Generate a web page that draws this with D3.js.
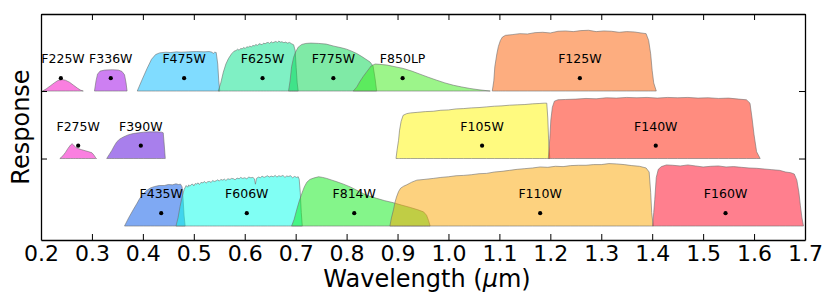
<!DOCTYPE html>
<html>
<head>
<meta charset="utf-8">
<script src="https://cdn.jsdelivr.net/npm/d3@7"></script>
<style>
  body { margin: 0; background: #fff; }
  svg { display: block; font-family: "DejaVu Sans", sans-serif; }
</style>
</head>
<body>
<script>
// filter curves: [wavelength (um), response]
var f225w = [[0.203,0],[0.21,0.03],[0.218,0.075],[0.226,0.12],[0.233,0.155],[0.241,0.17],[0.248,0.16],[0.256,0.13],[0.264,0.085],[0.272,0.04],[0.278,0.012],[0.283,0]];
var f336w = [[0.305,0],[0.308,0.15],[0.311,0.25],[0.316,0.295],[0.325,0.31],[0.34,0.315],[0.352,0.31],[0.359,0.29],[0.364,0.24],[0.367,0.12],[0.369,0]];
var f475w = [[0.389,0],[0.398,0.16],[0.408,0.33],[0.417,0.47],[0.425,0.54],[0.433,0.565],[0.445,0.575],[0.455,0.57],[0.466,0.58],[0.475,0.575],[0.49,0.58],[0.505,0.585],[0.52,0.58],[0.53,0.585],[0.536,0.575],[0.538,0.555],[0.541,0.575],[0.544,0.57],[0.547,0.4],[0.549,0.15],[0.551,0]];
var f625w = [[0.548,0],[0.553,0.12],[0.558,0.28],[0.563,0.40],[0.568,0.48],[0.574,0.55],[0.579,0.59],[0.583,0.6],[0.586,0.62],[0.589,0.605],[0.592,0.63],[0.595,0.625],[0.598,0.645],[0.601,0.63],[0.604,0.655],[0.607,0.65],[0.61,0.665],[0.613,0.655],[0.616,0.675],[0.619,0.67],[0.622,0.69],[0.625,0.675],[0.628,0.7],[0.631,0.695],[0.634,0.685],[0.637,0.71],[0.64,0.7],[0.643,0.715],[0.646,0.72],[0.649,0.705],[0.652,0.73],[0.655,0.715],[0.658,0.725],[0.661,0.735],[0.664,0.72],[0.667,0.74],[0.67,0.725],[0.673,0.73],[0.677,0.715],[0.68,0.725],[0.684,0.71],[0.688,0.72],[0.692,0.7],[0.696,0.685],[0.699,0.6],[0.701,0.35],[0.703,0.12],[0.705,0]];
var f775w = [[0.686,0],[0.689,0.15],[0.692,0.36],[0.696,0.5],[0.70,0.58],[0.705,0.65],[0.712,0.69],[0.72,0.705],[0.73,0.71],[0.745,0.705],[0.76,0.695],[0.775,0.665],[0.79,0.64],[0.80,0.62],[0.81,0.59],[0.82,0.555],[0.83,0.51],[0.838,0.47],[0.846,0.43],[0.852,0.37],[0.856,0.18],[0.859,0]];
var f850lp = [[0.813,0],[0.82,0.06],[0.826,0.14],[0.833,0.22],[0.84,0.29],[0.848,0.37],[0.856,0.40],[0.865,0.395],[0.879,0.385],[0.895,0.36],[0.911,0.335],[0.928,0.295],[0.944,0.25],[0.96,0.205],[0.977,0.16],[0.993,0.12],[1.01,0.085],[1.026,0.06],[1.042,0.038],[1.06,0.018],[1.082,0]];
var f125w = [[1.086,0],[1.089,0.15],[1.091,0.36],[1.095,0.55],[1.098,0.66],[1.102,0.75],[1.106,0.80],[1.112,0.825],[1.125,0.835],[1.14,0.85],[1.155,0.845],[1.17,0.865],[1.185,0.87],[1.2,0.86],[1.215,0.885],[1.23,0.89],[1.245,0.88],[1.26,0.895],[1.275,0.9],[1.29,0.88],[1.305,0.89],[1.32,0.885],[1.335,0.87],[1.35,0.88],[1.365,0.875],[1.378,0.86],[1.388,0.85],[1.393,0.75],[1.397,0.55],[1.400,0.3],[1.403,0.12],[1.408,0]];

var f275w = [[0.237,0],[0.243,0.04],[0.248,0.09],[0.253,0.15],[0.258,0.2],[0.261,0.22],[0.264,0.2],[0.268,0.165],[0.274,0.145],[0.28,0.13],[0.287,0.115],[0.294,0.1],[0.3,0.085],[0.304,0.05],[0.307,0.015],[0.309,0]];
var f390w = [[0.329,0],[0.334,0.06],[0.339,0.12],[0.344,0.19],[0.349,0.25],[0.355,0.29],[0.362,0.32],[0.371,0.35],[0.381,0.37],[0.391,0.38],[0.401,0.39],[0.414,0.395],[0.427,0.395],[0.437,0.39],[0.44,0.38],[0.442,0.2],[0.444,0]];
var f105w = [[0.897,0],[0.899,0.12],[0.902,0.27],[0.904,0.42],[0.907,0.55],[0.911,0.64],[0.918,0.665],[0.925,0.675],[0.94,0.685],[0.955,0.695],[0.97,0.7],[0.985,0.715],[1.0,0.72],[1.015,0.735],[1.03,0.74],[1.045,0.75],[1.06,0.755],[1.075,0.765],[1.09,0.775],[1.105,0.78],[1.12,0.79],[1.135,0.795],[1.15,0.8],[1.165,0.81],[1.178,0.815],[1.188,0.82],[1.193,0.82],[1.195,0.6],[1.197,0.2],[1.199,0]];
var f140w = [[1.196,0],[1.199,0.3],[1.201,0.57],[1.204,0.76],[1.208,0.85],[1.215,0.87],[1.23,0.875],[1.25,0.88],[1.27,0.89],[1.29,0.885],[1.31,0.9],[1.33,0.895],[1.35,0.905],[1.37,0.9],[1.39,0.905],[1.41,0.895],[1.43,0.905],[1.45,0.9],[1.47,0.905],[1.49,0.895],[1.51,0.9],[1.53,0.89],[1.55,0.895],[1.57,0.88],[1.585,0.87],[1.592,0.82],[1.596,0.6],[1.6,0.35],[1.605,0.1],[1.612,0]];

var f435w = [[0.364,0],[0.372,0.12],[0.381,0.24],[0.388,0.33],[0.394,0.41],[0.401,0.48],[0.408,0.53],[0.415,0.565],[0.423,0.585],[0.432,0.6],[0.442,0.6],[0.45,0.615],[0.458,0.61],[0.465,0.625],[0.47,0.615],[0.474,0.62],[0.477,0.58],[0.479,0.4],[0.481,0.15],[0.483,0]];
var f606w = [[0.465,0],[0.469,0.12],[0.473,0.29],[0.477,0.43],[0.481,0.54],[0.485,0.6],[0.488,0.575],[0.49,0.61],[0.492,0.59],[0.495,0.615],[0.498,0.62],[0.5,0.595],[0.503,0.63],[0.506,0.62],[0.508,0.64],[0.511,0.615],[0.514,0.645],[0.518,0.64],[0.521,0.66],[0.524,0.635],[0.527,0.655],[0.531,0.66],[0.534,0.645],[0.537,0.675],[0.54,0.66],[0.544,0.67],[0.547,0.685],[0.55,0.665],[0.553,0.69],[0.557,0.68],[0.56,0.695],[0.563,0.675],[0.567,0.7],[0.571,0.69],[0.574,0.705],[0.578,0.7],[0.581,0.685],[0.585,0.71],[0.589,0.7],[0.592,0.72],[0.596,0.705],[0.6,0.715],[0.604,0.7],[0.608,0.725],[0.612,0.715],[0.616,0.72],[0.619,0.7],[0.621,0.62],[0.623,0.705],[0.627,0.725],[0.631,0.715],[0.634,0.74],[0.638,0.72],[0.642,0.735],[0.645,0.745],[0.648,0.725],[0.652,0.74],[0.656,0.73],[0.66,0.75],[0.663,0.725],[0.667,0.745],[0.671,0.735],[0.675,0.75],[0.679,0.72],[0.682,0.74],[0.686,0.735],[0.69,0.745],[0.694,0.715],[0.698,0.735],[0.702,0.72],[0.705,0.73],[0.707,0.69],[0.709,0.5],[0.711,0.2],[0.713,0]];
var f814w = [[0.692,0],[0.697,0.1],[0.702,0.24],[0.707,0.37],[0.712,0.48],[0.717,0.58],[0.722,0.65],[0.728,0.69],[0.735,0.71],[0.745,0.73],[0.753,0.72],[0.761,0.705],[0.771,0.68],[0.781,0.655],[0.794,0.62],[0.807,0.58],[0.82,0.53],[0.833,0.48],[0.846,0.44],[0.859,0.41],[0.875,0.375],[0.892,0.345],[0.908,0.31],[0.925,0.275],[0.94,0.24],[0.951,0.21],[0.957,0.16],[0.961,0.08],[0.964,0]];
var f110w = [[0.885,0],[0.888,0.12],[0.892,0.24],[0.895,0.35],[0.898,0.43],[0.902,0.51],[0.906,0.56],[0.912,0.59],[0.918,0.61],[0.928,0.65],[0.938,0.68],[0.952,0.69],[0.97,0.705],[0.985,0.72],[1.0,0.73],[1.015,0.745],[1.03,0.75],[1.045,0.76],[1.06,0.775],[1.075,0.78],[1.09,0.80],[1.105,0.81],[1.12,0.825],[1.135,0.84],[1.15,0.85],[1.165,0.86],[1.18,0.875],[1.195,0.87],[1.21,0.885],[1.225,0.88],[1.24,0.895],[1.255,0.9],[1.27,0.9],[1.285,0.91],[1.3,0.91],[1.315,0.925],[1.33,0.92],[1.345,0.91],[1.36,0.895],[1.375,0.885],[1.388,0.86],[1.394,0.8],[1.397,0.5],[1.399,0.2],[1.402,0]];
var f160w = [[1.401,0],[1.403,0.2],[1.405,0.39],[1.408,0.72],[1.412,0.84],[1.418,0.88],[1.428,0.905],[1.44,0.9],[1.455,0.89],[1.47,0.905],[1.485,0.89],[1.5,0.875],[1.515,0.885],[1.53,0.89],[1.545,0.875],[1.56,0.88],[1.575,0.87],[1.59,0.86],[1.605,0.855],[1.62,0.845],[1.635,0.835],[1.65,0.825],[1.662,0.8],[1.672,0.79],[1.679,0.77],[1.684,0.68],[1.688,0.5],[1.691,0.3],[1.694,0.12],[1.697,0]];

// filter names per row, top row first
var row1Names = ['F225W', 'F336W', 'F475W', 'F625W', 'F775W', 'F850LP', 'F125W'];
var row2Names = ['F275W', 'F390W', 'F105W', 'F140W'];
var row3Names = ['F435W', 'F606W', 'F814W', 'F110W', 'F160W'];

// pivot wavelengths (um), marked with a dot
var row1Pivots = [0.239, 0.337, 0.481, 0.635, 0.774, 0.910, 1.258];
var row2Pivots = [0.273, 0.396, 1.066, 1.407];
var row3Pivots = [0.436, 0.604, 0.815, 1.180, 1.544];

var xTicks = [0.2, 0.3, 0.4, 0.5, 0.6, 0.7, 0.8, 0.9, 1.0, 1.1, 1.2, 1.3, 1.4, 1.5, 1.6, 1.7];
var yTicks = [1, 2];

var curves = {
  F225W: f225w, F336W: f336w, F475W: f475w, F625W: f625w, F775W: f775w, F850LP: f850lp, F125W: f125w,
  F275W: f275w, F390W: f390w, F105W: f105w, F140W: f140w,
  F435W: f435w, F606W: f606w, F814W: f814w, F110W: f110w, F160W: f160w
};

// fills are drawn at half opacity, like the original plot
var colors = {
  F225W: '#f500c1', F336W: '#9b00e5', F475W: '#01b9ff', F625W: '#00e189', F775W: '#00d54d',
  F850LP: '#39eb15', F125W: '#fb5b00', F275W: '#f500c1', F390W: '#5100d9', F105W: '#fff500',
  F140W: '#ff1900', F435W: '#0053e7', F606W: '#01ffe9', F814W: '#09eb15', F110W: '#fba500',
  F160W: '#ff001d'
};

var width = 830;
var height = 301;
var margin = {left: 41, right: 25, top: 14, bottom: 61};

var svg = d3.select('body')
  .append('svg')
  .attr('width', width)
  .attr('height', height);

var xScale = d3.scaleLinear()
  .domain([0.2, 1.7])
  .range([margin.left, width - margin.right]);

var yScale = d3.scaleLinear()
  .domain([-0.207, 3.141])
  .range([height - margin.bottom, margin.top]);

// each row sits at its own vertical offset
var rows = [
  {names: row1Names, pivots: row1Pivots, offset: 2},
  {names: row2Names, pivots: row2Pivots, offset: 1},
  {names: row3Names, pivots: row3Pivots, offset: 0}
];

var bands = svg.append('g');
var marks = svg.append('g');

rows.forEach(function(row) {
  var area = d3.area()
    .x(function(d) { return xScale(d[0]); })
    .y0(yScale(row.offset))
    .y1(function(d) { return yScale(row.offset + d[1]); });

  bands.selectAll(null)
    .data(row.names)
    .enter()
    .append('path')
    .attr('d', function(name) { return area(curves[name]); })
    .attr('fill', function(name) { return colors[name]; })
    .attr('fill-opacity', 0.5)
    .attr('stroke', '#6e6e6e')
    .attr('stroke-opacity', 0.75)
    .attr('stroke-width', 0.8);

  marks.selectAll(null)
    .data(row.names)
    .enter()
    .append('circle')
    .attr('cx', function(d, i) { return xScale(row.pivots[i]); })
    .attr('cy', yScale(row.offset + 0.19))
    .attr('r', 2.1)
    .attr('fill', '#000');

  // label sits above the dot; keep the first one clear of the left spine
  marks.selectAll(null)
    .data(row.names)
    .enter()
    .append('text')
    .attr('x', function(d, i) { return Math.max(xScale(row.pivots[i]), 63); })
    .attr('y', yScale(row.offset + 0.41))
    .attr('text-anchor', 'middle')
    .attr('font-size', 12.5)
    .text(function(d) { return d; });
});

// axes with inward ticks on all four sides
var axisBottom = d3.axisBottom(xScale).tickValues(xTicks).tickSizeInner(-6).tickSizeOuter(0)
  .tickPadding(5).tickFormat(d3.format('.1f'));
var axisTop = d3.axisTop(xScale).tickValues(xTicks).tickSizeInner(-6).tickSizeOuter(0).tickFormat('');
var axisLeft = d3.axisLeft(yScale).tickValues(yTicks).tickSizeInner(-6).tickSizeOuter(0).tickFormat('');
var axisRight = d3.axisRight(yScale).tickValues(yTicks).tickSizeInner(-6).tickSizeOuter(0).tickFormat('');

var gb = svg.append('g').attr('transform', 'translate(0,' + (height - margin.bottom) + ')').call(axisBottom);
var gt = svg.append('g').attr('transform', 'translate(0,' + margin.top + ')').call(axisTop);
var gl = svg.append('g').attr('transform', 'translate(' + margin.left + ',0)').call(axisLeft);
var gr = svg.append('g').attr('transform', 'translate(' + (width - margin.right) + ',0)').call(axisRight);

[gb, gt, gl, gr].forEach(function(g) {
  g.select('.domain').attr('stroke', '#000').attr('stroke-width', 1.3);
  g.selectAll('.tick line').attr('stroke', '#000').attr('stroke-width', 1);
});
gb.selectAll('.tick text')
  .attr('font-size', 22)
  .attr('font-family', 'DejaVu Sans')
  .attr('fill', '#000');

// axis titles
var xTitle = svg.append('text')
  .attr('x', (margin.left + width - margin.right) / 2 + 4)
  .attr('y', 287)
  .attr('text-anchor', 'middle')
  .attr('font-size', 24);
xTitle.append('tspan').text('Wavelength (');
xTitle.append('tspan').attr('font-style', 'italic').text('\u03bc');
xTitle.append('tspan').text('m)');

svg.append('text')
  .attr('transform', 'translate(29,' + ((margin.top + height - margin.bottom) / 2) + ') rotate(-90)')
  .attr('text-anchor', 'middle')
  .attr('font-size', 24)
  .text('Response');
</script>
</body>
</html>
